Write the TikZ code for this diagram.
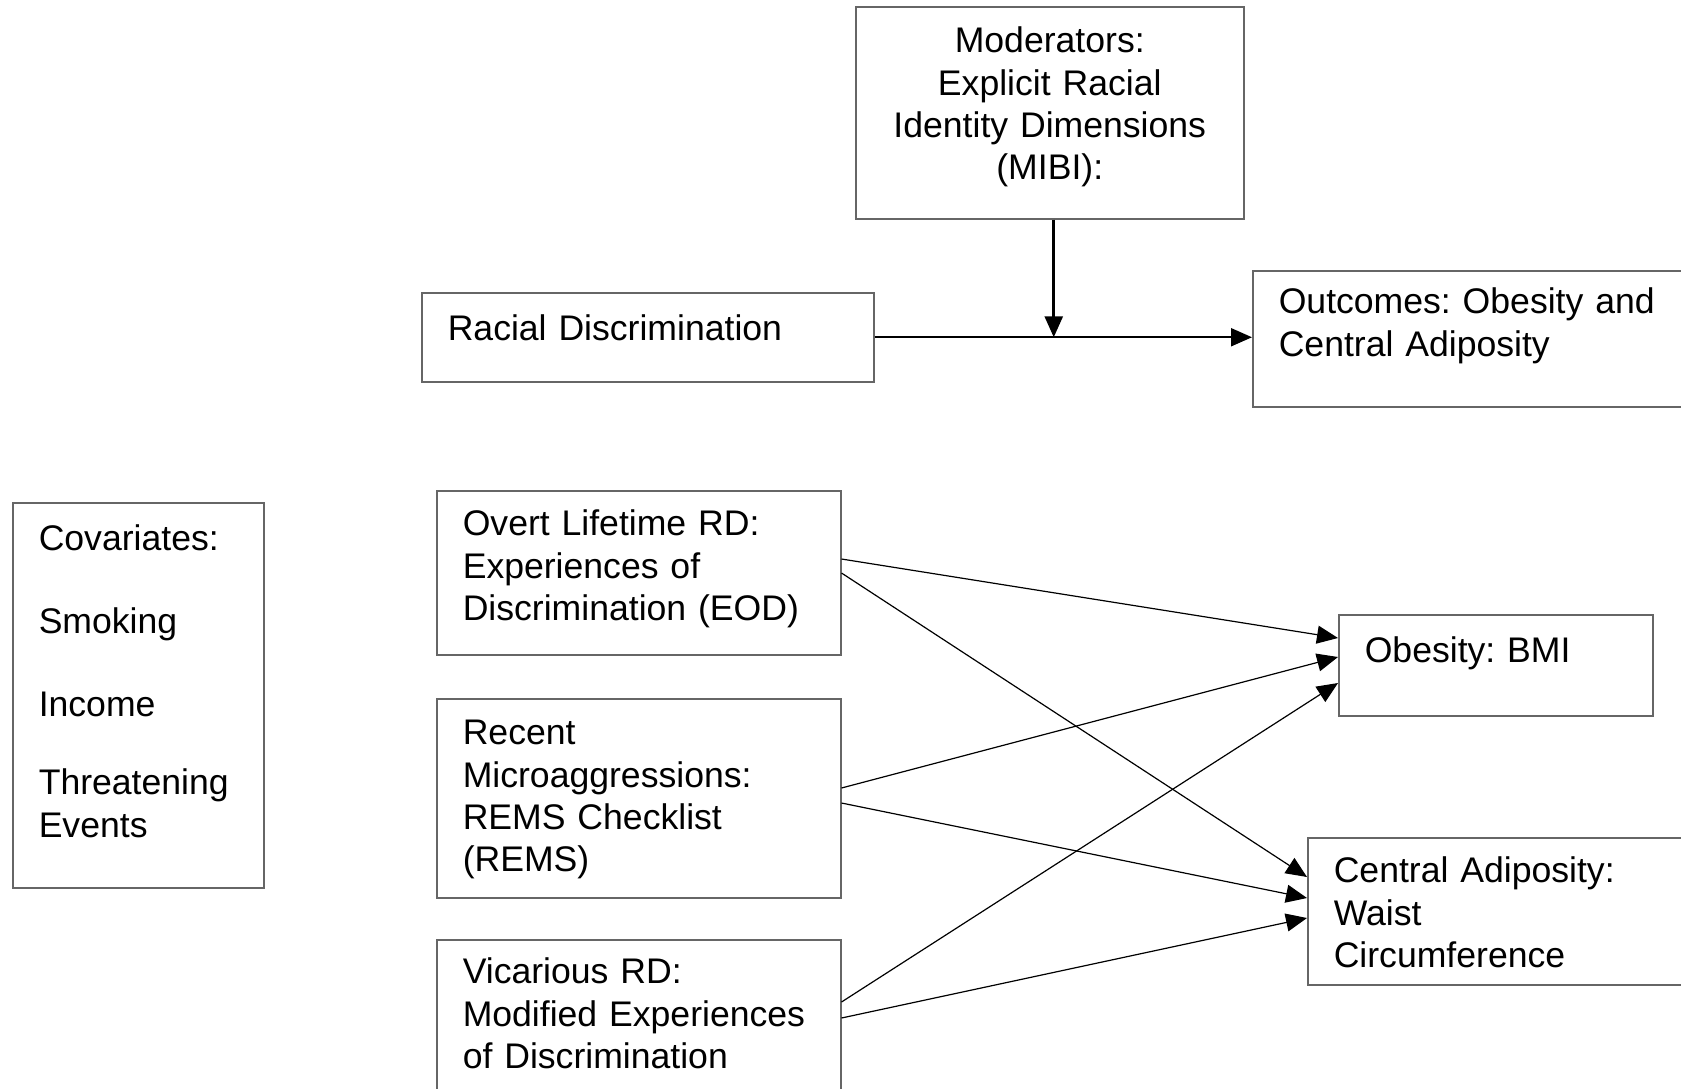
\documentclass[tikz,border=0pt]{standalone}
\usepackage{fontspec}
\setmainfont{Liberation Sans}
\frenchspacing
\usetikzlibrary{arrows.meta,positioning}

\begin{document}
\begin{tikzpicture}[
    x=0.5pt, y=-0.5pt,
    >={Triangle[length=10.5pt,width=9pt]},
    box/.style={draw=black!60, line width=0.75pt, anchor=north west, align=left,
        inner xsep=13pt, inner ysep=0pt, text height=23pt,
        font=\fontsize{17.8pt}{21.2pt}\selectfont},
    link/.style={->, line width=0.6pt}
]
\useasboundingbox (0,0) rectangle (1681,1088);

% Moderation model
\node[box, align=center, text width=168pt, text depth=83pt] (mod) at (855,6)
    {Moderators:\\Explicit Racial\\Identity Dimensions\\(MIBI):};
\node[box, text width=200pt, text height=24pt, text depth=20.5pt] (rd) at (421,292)
    {Racial Discrimination};
\node[box, text width=200pt, text height=21.5pt, text depth=46.5pt] (out) at (1252,270)
    {Outcomes: Obesity and\\Central Adiposity};

\coordinate (join) at ([xshift=2pt]mod.south |- rd.east);
\draw[->, line width=1pt] (rd.east) -- (out.west |- rd.east);
\draw[->, line width=1.4pt] ([xshift=2pt]mod.south) -- (join);

% Covariates
\node[box, text width=99.5pt, text height=24pt, text depth=168.5pt] (cov) at (12,502)
    {Covariates:\\[20.3pt]Smoking\\[20.3pt]Income\\[17.8pt]Threatening\\Events};

% Predictors
\node[box, text width=176pt, text height=22.5pt, text depth=59.5pt] (overt) at (436,490)
    {Overt Lifetime RD:\\Experiences of\\Discrimination (EOD)};
\node[box, text width=176pt, text height=23pt, text depth=76.5pt] (recent) at (436,698)
    {Recent\\Microaggressions:\\REMS Checklist\\(REMS)};
\node[box, text width=176pt, text height=22pt, text depth=60pt] (vic) at (436,939)
    {Vicarious RD:\\Modified Experiences\\of Discrimination};

% Outcomes
\node[box, text width=131pt, text height=24pt, text depth=26.5pt] (bmi) at (1338,614)
    {Obesity: BMI};
\node[box, text width=174pt, text height=22.5pt, text depth=51pt] (cen) at (1307,837)
    {Central Adiposity:\\Waist\\Circumference};

% Paths
\draw[link] ([yshift=-34.5pt]overt.north east) -- ([yshift=-12pt]bmi.north west);
\draw[link] ([yshift=-41.5pt]overt.north east) -- ([yshift=-20pt]cen.north west);
\draw[link] ([yshift=-45pt]recent.north east) -- ([yshift=-21.5pt]bmi.north west);
\draw[link] ([yshift=-52.5pt]recent.north east) -- ([yshift=-30.5pt]cen.north west);
\draw[link] ([yshift=-31.5pt]vic.north east) -- ([yshift=-34.5pt]bmi.north west);
\draw[link] ([yshift=-39.5pt]vic.north east) -- ([yshift=-40.5pt]cen.north west);

\end{tikzpicture}
\end{document}
